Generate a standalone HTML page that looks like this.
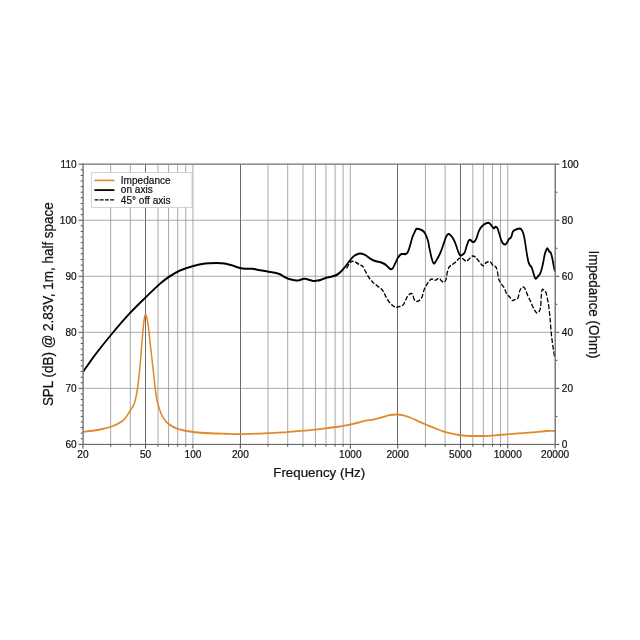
<!DOCTYPE html>
<html lang="en">
<head>
<meta charset="utf-8">
<title>Frequency response</title>
<style>
html,body{margin:0;padding:0;background:#fff;}
body{width:640px;height:640px;overflow:hidden;}
svg{display:block;will-change:transform;}
text{font-family:"Liberation Sans",sans-serif;fill:#111;stroke:#111;stroke-width:0.22px;}
</style>
</head>
<body>
<svg width="640" height="640" viewBox="0 0 640 640">
<rect width="640" height="640" fill="#fff"/>
<g><line x1="110.64" y1="164.20" x2="110.64" y2="444.40" stroke="#a4a4a4" stroke-width="0.95"/><line x1="130.30" y1="164.20" x2="130.30" y2="444.40" stroke="#a4a4a4" stroke-width="0.95"/><line x1="145.50" y1="164.20" x2="145.50" y2="444.40" stroke="#585858" stroke-width="0.9"/><line x1="158.02" y1="164.20" x2="158.02" y2="444.40" stroke="#a4a4a4" stroke-width="0.95"/><line x1="168.56" y1="164.20" x2="168.56" y2="444.40" stroke="#a4a4a4" stroke-width="0.95"/><line x1="177.68" y1="164.20" x2="177.68" y2="444.40" stroke="#a4a4a4" stroke-width="0.95"/><line x1="185.74" y1="164.20" x2="185.74" y2="444.40" stroke="#a4a4a4" stroke-width="0.95"/><line x1="192.94" y1="164.20" x2="192.94" y2="444.40" stroke="#a4a4a4" stroke-width="0.95"/><line x1="240.50" y1="164.20" x2="240.50" y2="444.40" stroke="#585858" stroke-width="0.9"/><line x1="268.04" y1="164.20" x2="268.04" y2="444.40" stroke="#a4a4a4" stroke-width="0.95"/><line x1="287.70" y1="164.20" x2="287.70" y2="444.40" stroke="#a4a4a4" stroke-width="0.95"/><line x1="302.96" y1="164.20" x2="302.96" y2="444.40" stroke="#a4a4a4" stroke-width="0.95"/><line x1="315.42" y1="164.20" x2="315.42" y2="444.40" stroke="#a4a4a4" stroke-width="0.95"/><line x1="325.96" y1="164.20" x2="325.96" y2="444.40" stroke="#a4a4a4" stroke-width="0.95"/><line x1="335.08" y1="164.20" x2="335.08" y2="444.40" stroke="#a4a4a4" stroke-width="0.95"/><line x1="343.14" y1="164.20" x2="343.14" y2="444.40" stroke="#a4a4a4" stroke-width="0.95"/><line x1="350.34" y1="164.20" x2="350.34" y2="444.40" stroke="#a4a4a4" stroke-width="0.95"/><line x1="397.50" y1="164.20" x2="397.50" y2="444.40" stroke="#585858" stroke-width="0.9"/><line x1="425.44" y1="164.20" x2="425.44" y2="444.40" stroke="#a4a4a4" stroke-width="0.95"/><line x1="445.10" y1="164.20" x2="445.10" y2="444.40" stroke="#a4a4a4" stroke-width="0.95"/><line x1="460.50" y1="164.20" x2="460.50" y2="444.40" stroke="#585858" stroke-width="0.9"/><line x1="472.82" y1="164.20" x2="472.82" y2="444.40" stroke="#a4a4a4" stroke-width="0.95"/><line x1="483.36" y1="164.20" x2="483.36" y2="444.40" stroke="#a4a4a4" stroke-width="0.95"/><line x1="492.48" y1="164.20" x2="492.48" y2="444.40" stroke="#a4a4a4" stroke-width="0.95"/><line x1="500.54" y1="164.20" x2="500.54" y2="444.40" stroke="#a4a4a4" stroke-width="0.95"/><line x1="507.74" y1="164.20" x2="507.74" y2="444.40" stroke="#a4a4a4" stroke-width="0.95"/><line x1="83.10" y1="388.36" x2="555.25" y2="388.36" stroke="#8c8c8c" stroke-width="0.75"/><line x1="83.10" y1="332.32" x2="555.25" y2="332.32" stroke="#8c8c8c" stroke-width="0.75"/><line x1="83.10" y1="276.28" x2="555.25" y2="276.28" stroke="#8c8c8c" stroke-width="0.75"/><line x1="83.10" y1="220.24" x2="555.25" y2="220.24" stroke="#8c8c8c" stroke-width="0.75"/></g>
<g stroke="#484848" stroke-width="1"><line x1="82.92" y1="444.40" x2="82.92" y2="448.60"/><line x1="110.64" y1="444.40" x2="110.64" y2="446.60"/><line x1="130.30" y1="444.40" x2="130.30" y2="446.60"/><line x1="145.56" y1="444.40" x2="145.56" y2="448.60"/><line x1="158.02" y1="444.40" x2="158.02" y2="446.60"/><line x1="168.56" y1="444.40" x2="168.56" y2="446.60"/><line x1="177.68" y1="444.40" x2="177.68" y2="446.60"/><line x1="185.74" y1="444.40" x2="185.74" y2="446.60"/><line x1="192.94" y1="444.40" x2="192.94" y2="448.60"/><line x1="240.32" y1="444.40" x2="240.32" y2="448.60"/><line x1="268.04" y1="444.40" x2="268.04" y2="446.60"/><line x1="287.70" y1="444.40" x2="287.70" y2="446.60"/><line x1="302.96" y1="444.40" x2="302.96" y2="446.60"/><line x1="315.42" y1="444.40" x2="315.42" y2="446.60"/><line x1="325.96" y1="444.40" x2="325.96" y2="446.60"/><line x1="335.08" y1="444.40" x2="335.08" y2="446.60"/><line x1="343.14" y1="444.40" x2="343.14" y2="446.60"/><line x1="350.34" y1="444.40" x2="350.34" y2="448.60"/><line x1="397.72" y1="444.40" x2="397.72" y2="448.60"/><line x1="425.44" y1="444.40" x2="425.44" y2="446.60"/><line x1="445.10" y1="444.40" x2="445.10" y2="446.60"/><line x1="460.36" y1="444.40" x2="460.36" y2="448.60"/><line x1="472.82" y1="444.40" x2="472.82" y2="446.60"/><line x1="483.36" y1="444.40" x2="483.36" y2="446.60"/><line x1="492.48" y1="444.40" x2="492.48" y2="446.60"/><line x1="500.54" y1="444.40" x2="500.54" y2="446.60"/><line x1="507.74" y1="444.40" x2="507.74" y2="448.60"/><line x1="555.12" y1="444.40" x2="555.12" y2="448.60"/><line x1="78.80" y1="444.40" x2="83.10" y2="444.40"/><line x1="80.70" y1="438.80" x2="83.10" y2="438.80"/><line x1="80.70" y1="433.19" x2="83.10" y2="433.19"/><line x1="80.70" y1="427.59" x2="83.10" y2="427.59"/><line x1="80.70" y1="421.98" x2="83.10" y2="421.98"/><line x1="80.70" y1="416.38" x2="83.10" y2="416.38"/><line x1="80.70" y1="410.78" x2="83.10" y2="410.78"/><line x1="80.70" y1="405.17" x2="83.10" y2="405.17"/><line x1="80.70" y1="399.57" x2="83.10" y2="399.57"/><line x1="80.70" y1="393.96" x2="83.10" y2="393.96"/><line x1="78.80" y1="388.36" x2="83.10" y2="388.36"/><line x1="80.70" y1="382.76" x2="83.10" y2="382.76"/><line x1="80.70" y1="377.15" x2="83.10" y2="377.15"/><line x1="80.70" y1="371.55" x2="83.10" y2="371.55"/><line x1="80.70" y1="365.94" x2="83.10" y2="365.94"/><line x1="80.70" y1="360.34" x2="83.10" y2="360.34"/><line x1="80.70" y1="354.74" x2="83.10" y2="354.74"/><line x1="80.70" y1="349.13" x2="83.10" y2="349.13"/><line x1="80.70" y1="343.53" x2="83.10" y2="343.53"/><line x1="80.70" y1="337.92" x2="83.10" y2="337.92"/><line x1="78.80" y1="332.32" x2="83.10" y2="332.32"/><line x1="80.70" y1="326.72" x2="83.10" y2="326.72"/><line x1="80.70" y1="321.11" x2="83.10" y2="321.11"/><line x1="80.70" y1="315.51" x2="83.10" y2="315.51"/><line x1="80.70" y1="309.90" x2="83.10" y2="309.90"/><line x1="80.70" y1="304.30" x2="83.10" y2="304.30"/><line x1="80.70" y1="298.70" x2="83.10" y2="298.70"/><line x1="80.70" y1="293.09" x2="83.10" y2="293.09"/><line x1="80.70" y1="287.49" x2="83.10" y2="287.49"/><line x1="80.70" y1="281.88" x2="83.10" y2="281.88"/><line x1="78.80" y1="276.28" x2="83.10" y2="276.28"/><line x1="80.70" y1="270.68" x2="83.10" y2="270.68"/><line x1="80.70" y1="265.07" x2="83.10" y2="265.07"/><line x1="80.70" y1="259.47" x2="83.10" y2="259.47"/><line x1="80.70" y1="253.86" x2="83.10" y2="253.86"/><line x1="80.70" y1="248.26" x2="83.10" y2="248.26"/><line x1="80.70" y1="242.66" x2="83.10" y2="242.66"/><line x1="80.70" y1="237.05" x2="83.10" y2="237.05"/><line x1="80.70" y1="231.45" x2="83.10" y2="231.45"/><line x1="80.70" y1="225.84" x2="83.10" y2="225.84"/><line x1="78.80" y1="220.24" x2="83.10" y2="220.24"/><line x1="80.70" y1="214.64" x2="83.10" y2="214.64"/><line x1="80.70" y1="209.03" x2="83.10" y2="209.03"/><line x1="80.70" y1="203.43" x2="83.10" y2="203.43"/><line x1="80.70" y1="197.82" x2="83.10" y2="197.82"/><line x1="80.70" y1="192.22" x2="83.10" y2="192.22"/><line x1="80.70" y1="186.62" x2="83.10" y2="186.62"/><line x1="80.70" y1="181.01" x2="83.10" y2="181.01"/><line x1="80.70" y1="175.41" x2="83.10" y2="175.41"/><line x1="80.70" y1="169.80" x2="83.10" y2="169.80"/><line x1="78.80" y1="164.20" x2="83.10" y2="164.20"/><line x1="555.25" y1="444.40" x2="559.45" y2="444.40"/><line x1="555.25" y1="416.38" x2="557.45" y2="416.38"/><line x1="555.25" y1="388.36" x2="559.45" y2="388.36"/><line x1="555.25" y1="360.34" x2="557.45" y2="360.34"/><line x1="555.25" y1="332.32" x2="559.45" y2="332.32"/><line x1="555.25" y1="304.30" x2="557.45" y2="304.30"/><line x1="555.25" y1="276.28" x2="559.45" y2="276.28"/><line x1="555.25" y1="248.26" x2="557.45" y2="248.26"/><line x1="555.25" y1="220.24" x2="559.45" y2="220.24"/><line x1="555.25" y1="192.22" x2="557.45" y2="192.22"/><line x1="555.25" y1="164.20" x2="559.45" y2="164.20"/></g>
<clipPath id="c"><rect x="82.92" y="164.20" width="472.80" height="280.20"/></clipPath>
<g clip-path="url(#c)"><g transform="scale(0.850 1)" fill="none" stroke-linejoin="round" stroke-linecap="butt">
<path d="M97.88 431.75C99.71 431.58 105.04 431.21 108.82 430.75C112.61 430.29 116.91 429.67 120.59 429.00C124.26 428.33 127.70 427.70 130.88 426.75C134.07 425.80 137.05 424.62 139.71 423.30C142.36 421.98 144.58 420.92 146.82 418.80C149.07 416.68 151.35 413.10 153.18 410.60C155.00 408.10 156.45 406.82 157.76 403.80C159.08 400.78 159.98 398.03 161.06 392.50C162.14 386.97 163.35 377.88 164.24 370.60C165.12 363.32 165.63 356.08 166.35 348.80C167.08 341.52 167.98 332.10 168.59 326.90C169.20 321.70 169.55 319.68 170.00 317.60C170.45 315.52 170.84 314.40 171.29 314.40C171.75 314.40 172.16 315.52 172.71 317.60C173.25 319.68 173.80 321.70 174.59 326.90C175.37 332.10 176.45 341.52 177.41 348.80C178.37 356.08 179.39 363.32 180.35 370.60C181.31 377.88 182.29 387.02 183.18 392.50C184.06 397.98 184.53 399.85 185.65 403.50C186.76 407.15 188.27 411.38 189.88 414.40C191.49 417.42 193.45 419.77 195.29 421.60C197.14 423.43 198.78 424.23 200.94 425.40C203.10 426.57 205.45 427.71 208.24 428.60C211.02 429.49 214.12 430.14 217.65 430.75C221.18 431.36 224.51 431.83 229.41 432.25C234.31 432.67 241.18 433.00 247.06 433.25C252.94 433.50 258.71 433.61 264.71 433.75C270.71 433.89 276.86 434.11 283.06 434.10C289.25 434.09 296.41 433.87 301.88 433.70C307.35 433.53 309.90 433.37 315.88 433.10C321.86 432.83 331.00 432.50 337.76 432.10C344.53 431.70 351.00 431.10 356.47 430.70C361.94 430.30 366.16 430.10 370.59 429.70C375.02 429.30 378.89 428.75 383.06 428.30C387.23 427.85 391.94 427.43 395.59 427.00C399.24 426.57 402.07 426.13 404.94 425.70C407.81 425.27 409.96 424.93 412.82 424.40C415.69 423.87 419.25 423.13 422.12 422.50C424.98 421.87 427.14 421.08 430.00 420.60C432.86 420.12 436.18 420.12 439.29 419.60C442.41 419.08 445.57 418.25 448.71 417.50C451.84 416.75 455.14 415.60 458.12 415.10C461.10 414.60 463.86 414.47 466.59 414.50C469.31 414.53 471.60 414.72 474.47 415.30C477.34 415.88 480.71 416.93 483.82 418.00C486.94 419.07 490.05 420.50 493.18 421.70C496.30 422.90 499.45 424.10 502.59 425.20C505.73 426.30 508.88 427.28 512.00 428.30C515.12 429.32 518.18 430.45 521.29 431.30C524.41 432.15 527.57 432.78 530.71 433.40C533.84 434.02 537.00 434.60 540.12 435.00C543.24 435.40 545.78 435.63 549.41 435.80C553.04 435.97 557.71 436.00 561.88 436.00C566.06 436.00 570.29 435.97 574.47 435.80C578.65 435.63 582.78 435.27 586.94 435.00C591.10 434.73 594.73 434.52 599.41 434.20C604.10 433.88 609.84 433.45 615.06 433.10C620.27 432.75 626.02 432.45 630.71 432.10C635.39 431.75 639.49 431.18 643.18 431.00C646.86 430.82 651.22 431.00 652.82 431.00" stroke="#e2882a" stroke-width="1.8"/>
<path d="M407.76 268.40C408.31 267.57 410.06 264.57 411.06 263.40C412.06 262.23 412.55 261.58 413.76 261.40C414.98 261.22 416.82 261.75 418.35 262.30C419.88 262.85 421.55 264.04 422.94 264.70C424.33 265.36 425.63 265.28 426.71 266.25C427.78 267.22 428.20 268.62 429.41 270.50C430.63 272.38 432.47 275.55 434.00 277.50C435.53 279.45 436.90 280.77 438.59 282.20C440.27 283.63 442.27 284.85 444.12 286.10C445.96 287.35 448.12 288.13 449.65 289.70C451.18 291.27 452.08 293.63 453.29 295.50C454.51 297.37 455.57 299.28 456.94 300.90C458.31 302.52 460.14 304.15 461.53 305.20C462.92 306.25 463.90 307.00 465.29 307.20C466.69 307.40 468.35 306.80 469.88 306.40C471.41 306.00 473.25 305.83 474.47 304.80C475.69 303.77 476.25 301.75 477.18 300.20C478.10 298.65 478.92 296.60 480.00 295.50C481.08 294.40 482.73 293.73 483.65 293.60C484.57 293.47 484.92 293.73 485.53 294.70C486.14 295.67 486.57 298.28 487.29 299.40C488.02 300.52 489.02 301.15 489.88 301.40C490.75 301.65 491.43 301.50 492.47 300.90C493.51 300.30 495.06 299.62 496.12 297.80C497.18 295.98 497.90 292.08 498.82 290.00C499.75 287.92 500.72 286.73 501.65 285.30C502.58 283.87 503.33 282.45 504.41 281.40C505.49 280.35 506.89 279.18 508.12 279.00C509.34 278.82 510.39 280.42 511.76 280.30C513.14 280.18 515.13 278.25 516.35 278.30C517.58 278.35 518.20 279.95 519.12 280.60C520.04 281.25 520.97 282.33 521.88 282.20C522.79 282.07 523.88 281.37 524.59 279.80C525.29 278.23 525.51 274.88 526.12 272.80C526.73 270.72 527.25 268.65 528.24 267.30C529.22 265.95 530.61 265.65 532.00 264.70C533.39 263.75 535.22 262.65 536.59 261.60C537.96 260.55 539.02 258.93 540.24 258.40C541.45 257.87 542.50 257.95 543.88 258.40C545.26 258.85 546.98 261.17 548.53 261.10C550.08 261.03 551.95 258.87 553.18 258.00C554.40 257.13 554.82 256.03 555.88 255.90C556.94 255.77 558.30 256.33 559.53 257.20C560.75 258.07 561.80 259.67 563.24 261.10C564.67 262.53 566.70 265.53 568.12 265.80C569.54 266.07 570.33 263.35 571.76 262.70C573.20 262.05 575.27 261.38 576.71 261.90C578.14 262.42 579.29 265.02 580.35 265.80C581.41 266.58 582.29 265.82 583.06 266.60C583.82 267.38 584.32 268.42 584.94 270.50C585.56 272.58 586.00 276.89 586.76 279.10C587.53 281.31 588.46 282.32 589.53 283.75C590.60 285.18 592.10 286.01 593.18 287.70C594.25 289.39 594.92 292.35 596.00 293.90C597.08 295.45 598.49 295.90 599.65 297.00C600.80 298.10 601.86 300.10 602.94 300.50C604.02 300.90 605.04 299.85 606.12 299.40C607.20 298.95 608.51 299.23 609.41 297.80C610.31 296.37 610.76 292.48 611.53 290.80C612.29 289.12 613.23 288.30 614.00 287.70C614.77 287.10 615.45 286.82 616.18 287.20C616.90 287.58 617.58 288.62 618.35 290.00C619.13 291.38 619.96 293.80 620.82 295.50C621.69 297.20 622.63 298.52 623.53 300.20C624.43 301.88 625.31 303.92 626.24 305.60C627.16 307.28 628.22 309.12 629.06 310.30C629.90 311.48 630.43 312.48 631.29 312.70C632.16 312.92 633.45 312.52 634.24 311.60C635.02 310.68 635.58 309.76 636.00 307.20C636.42 304.64 636.45 299.17 636.76 296.25C637.08 293.33 637.28 290.69 637.88 289.70C638.48 288.71 639.61 289.82 640.35 290.30C641.10 290.78 641.78 291.35 642.35 292.60C642.92 293.85 643.25 295.68 643.76 297.80C644.27 299.92 644.86 302.02 645.41 305.30C645.96 308.58 646.54 312.87 647.06 317.50C647.58 322.13 647.98 328.42 648.53 333.10C649.08 337.78 649.68 341.43 650.35 345.60C651.03 349.77 652.22 356.02 652.59 358.10" stroke="#000" stroke-width="1.5" stroke-dasharray="4.9 1.9"/>
<path d="M97.88 371.75C100.20 368.96 106.26 361.19 111.76 355.00C117.26 348.81 124.02 341.58 130.88 334.60C137.75 327.62 146.23 319.28 152.94 313.10C159.66 306.92 165.29 302.39 171.18 297.50C177.06 292.61 183.68 287.17 188.24 283.75C192.79 280.33 194.61 279.21 198.53 277.00C202.45 274.79 207.11 272.29 211.76 270.50C216.42 268.71 221.57 267.40 226.47 266.25C231.37 265.10 237.65 264.11 241.18 263.60C244.71 263.09 245.44 263.29 247.65 263.20C249.85 263.11 252.25 263.05 254.41 263.05C256.57 263.05 258.48 263.04 260.59 263.20C262.70 263.36 264.90 263.60 267.06 264.00C269.22 264.40 270.98 264.95 273.53 265.60C276.08 266.25 279.90 267.38 282.35 267.90C284.80 268.42 285.78 268.60 288.24 268.75C290.69 268.90 294.12 268.55 297.06 268.80C300.00 269.05 302.94 269.80 305.88 270.25C308.82 270.70 311.76 271.08 314.71 271.50C317.65 271.92 321.08 272.29 323.53 272.75C325.98 273.21 327.45 273.50 329.41 274.25C331.37 275.00 333.33 276.42 335.29 277.25C337.25 278.08 338.97 278.71 341.18 279.25C343.38 279.79 346.67 280.34 348.53 280.50C350.39 280.66 351.07 280.46 352.35 280.20C353.64 279.94 355.06 279.19 356.24 278.95C357.41 278.71 358.27 278.62 359.41 278.75C360.55 278.88 361.59 279.39 363.06 279.75C364.53 280.11 366.59 280.76 368.24 280.90C369.88 281.04 371.47 280.77 372.94 280.60C374.41 280.43 375.25 280.38 377.06 279.90C378.87 279.42 381.72 278.27 383.82 277.75C385.93 277.23 387.60 277.25 389.71 276.75C391.81 276.25 394.51 275.67 396.47 274.75C398.43 273.83 399.96 272.49 401.47 271.25C402.98 270.01 403.93 268.99 405.53 267.30C407.13 265.61 409.24 262.98 411.06 261.10C412.88 259.22 414.64 257.23 416.47 256.00C418.30 254.78 420.51 254.12 422.06 253.75C423.61 253.38 424.38 253.49 425.76 253.75C427.15 254.01 428.67 254.47 430.35 255.30C432.04 256.13 434.04 257.78 435.88 258.75C437.73 259.72 439.43 260.53 441.41 261.10C443.39 261.68 445.78 261.63 447.76 262.20C449.75 262.77 451.61 263.52 453.29 264.50C454.98 265.48 456.72 267.32 457.88 268.10C459.05 268.88 459.53 269.25 460.29 269.20C461.06 269.15 461.64 268.88 462.47 267.80C463.30 266.72 464.37 264.33 465.29 262.70C466.22 261.07 467.08 259.32 468.00 258.00C468.92 256.68 469.90 255.47 470.82 254.80C471.75 254.13 472.47 254.13 473.53 254.00C474.59 253.87 476.10 254.38 477.18 254.00C478.25 253.62 479.08 253.25 480.00 251.70C480.92 250.15 481.82 247.17 482.71 244.70C483.59 242.23 484.41 239.05 485.29 236.90C486.18 234.75 487.20 233.16 488.00 231.80C488.80 230.44 489.06 229.15 490.12 228.75C491.18 228.35 493.04 229.01 494.35 229.40C495.67 229.79 496.94 230.25 498.00 231.10C499.06 231.95 499.78 232.88 500.71 234.50C501.63 236.12 502.76 238.45 503.53 240.80C504.29 243.15 504.59 245.73 505.29 248.60C506.00 251.47 507.00 255.58 507.76 258.00C508.53 260.42 509.22 262.32 509.88 263.10C510.55 263.88 511.00 263.43 511.76 262.70C512.53 261.97 513.39 260.45 514.47 258.75C515.55 257.05 517.00 254.97 518.24 252.50C519.47 250.03 520.75 246.55 521.88 243.90C523.01 241.25 524.08 238.23 525.00 236.60C525.92 234.97 526.56 234.32 527.41 234.10C528.26 233.88 529.20 234.58 530.12 235.30C531.04 236.02 532.02 237.10 532.94 238.40C533.86 239.70 534.73 241.13 535.65 243.10C536.57 245.07 537.55 248.17 538.47 250.20C539.39 252.23 540.27 254.53 541.18 255.30C542.08 256.07 542.96 255.27 543.88 254.80C544.80 254.33 545.86 253.93 546.71 252.50C547.55 251.07 548.18 248.20 548.94 246.25C549.71 244.30 550.59 241.89 551.29 240.80C552.00 239.71 552.41 239.52 553.18 239.70C553.94 239.88 555.06 241.58 555.88 241.90C556.71 242.22 557.35 242.18 558.12 241.60C558.88 241.02 559.62 240.10 560.47 238.40C561.32 236.70 562.31 233.27 563.24 231.40C564.16 229.53 564.93 228.37 566.00 227.20C567.07 226.03 568.43 225.08 569.65 224.40C570.86 223.72 572.27 223.32 573.29 223.10C574.31 222.88 574.90 222.63 575.76 223.10C576.63 223.57 577.62 225.03 578.47 225.90C579.32 226.77 580.12 228.17 580.88 228.30C581.65 228.43 582.38 226.78 583.06 226.70C583.74 226.62 584.25 226.75 584.94 227.80C585.63 228.85 586.41 230.97 587.18 233.00C587.94 235.03 588.75 238.27 589.53 240.00C590.31 241.73 591.06 242.67 591.88 243.40C592.71 244.13 593.65 244.58 594.47 244.40C595.29 244.22 596.12 243.17 596.82 242.30C597.53 241.43 597.93 240.10 598.71 239.20C599.48 238.30 600.71 238.12 601.47 236.90C602.24 235.68 602.52 233.08 603.29 231.90C604.07 230.72 605.04 230.33 606.12 229.80C607.20 229.28 608.71 228.93 609.76 228.75C610.82 228.57 611.65 228.31 612.47 228.75C613.29 229.19 614.00 230.04 614.71 231.40C615.41 232.76 616.10 234.55 616.71 236.90C617.31 239.25 617.82 242.63 618.35 245.50C618.88 248.37 619.33 251.37 619.88 254.10C620.43 256.83 621.04 260.03 621.65 261.90C622.25 263.77 622.90 264.40 623.53 265.30C624.16 266.20 624.80 266.18 625.41 267.30C626.02 268.42 626.57 270.35 627.18 272.00C627.78 273.65 628.53 276.07 629.06 277.20C629.59 278.32 629.75 278.83 630.35 278.75C630.96 278.67 631.84 277.56 632.71 276.70C633.57 275.84 634.76 274.90 635.53 273.60C636.29 272.30 636.69 270.85 637.29 268.90C637.90 266.95 638.57 264.37 639.18 261.90C639.78 259.43 640.33 256.13 640.94 254.10C641.55 252.07 642.29 250.67 642.82 249.70C643.35 248.73 643.59 248.04 644.12 248.30C644.65 248.56 645.39 250.55 646.00 251.25C646.61 251.95 647.22 251.64 647.76 252.50C648.31 253.36 648.75 254.45 649.29 256.40C649.84 258.35 650.47 261.68 651.06 264.20C651.65 266.72 652.53 270.28 652.82 271.50" stroke="#000" stroke-width="2.05"/>
</g></g>
<g stroke-linecap="square">
<line x1="83.10" y1="164.20" x2="555.25" y2="164.20" stroke="#727272" stroke-width="1.2"/>
<line x1="83.10" y1="444.40" x2="555.25" y2="444.40" stroke="#585858" stroke-width="1.0"/>
<line x1="83.10" y1="164.20" x2="83.10" y2="444.40" stroke="#7c7c7c" stroke-width="1.5"/>
<line x1="555.25" y1="164.20" x2="555.25" y2="444.40" stroke="#7c7c7c" stroke-width="1.5"/>
</g>
<rect x="91.3" y="172.6" width="100.7" height="34.8" fill="#fff" stroke="#c8c8c8" stroke-width="0.8"/>
<line x1="94.4" y1="180.4" x2="114.4" y2="180.4" stroke="#e2882a" stroke-width="1.6"/>
<line x1="94.4" y1="190.1" x2="114.4" y2="190.1" stroke="#000" stroke-width="1.8"/>
<line x1="94.6" y1="199.9" x2="114.6" y2="199.9" stroke="#000" stroke-width="1.25" stroke-dasharray="3.9 1.3"/>
<g class="lg">
<text transform="translate(120.80 183.80) scale(0.885 1)" font-size="11.40" text-anchor="start">Impedance</text>
<text transform="translate(120.80 193.35) scale(0.885 1)" font-size="11.40" text-anchor="start">on axis</text>
<text transform="translate(120.80 203.60) scale(0.885 1)" font-size="11.40" text-anchor="start">45° off axis</text>
</g>
<g class="tk" text-anchor="middle">
<text transform="translate(82.92 457.90) scale(0.920 1)" font-size="11.00" text-anchor="middle">20</text>
<text transform="translate(145.56 457.90) scale(0.920 1)" font-size="11.00" text-anchor="middle">50</text>
<text transform="translate(192.94 457.90) scale(0.920 1)" font-size="11.00" text-anchor="middle">100</text>
<text transform="translate(240.32 457.90) scale(0.920 1)" font-size="11.00" text-anchor="middle">200</text>
<text transform="translate(350.34 457.90) scale(0.920 1)" font-size="11.00" text-anchor="middle">1000</text>
<text transform="translate(397.72 457.90) scale(0.920 1)" font-size="11.00" text-anchor="middle">2000</text>
<text transform="translate(460.36 457.90) scale(0.920 1)" font-size="11.00" text-anchor="middle">5000</text>
<text transform="translate(507.74 457.90) scale(0.920 1)" font-size="11.00" text-anchor="middle">10000</text>
<text transform="translate(555.12 457.90) scale(0.920 1)" font-size="11.00" text-anchor="middle">20000</text>
</g>
<g class="tk" text-anchor="end">
<text transform="translate(76.70 448.40) scale(0.920 1)" font-size="11.00" text-anchor="end">60</text>
<text transform="translate(76.70 392.36) scale(0.920 1)" font-size="11.00" text-anchor="end">70</text>
<text transform="translate(76.70 336.32) scale(0.920 1)" font-size="11.00" text-anchor="end">80</text>
<text transform="translate(76.70 280.28) scale(0.920 1)" font-size="11.00" text-anchor="end">90</text>
<text transform="translate(76.70 224.24) scale(0.920 1)" font-size="11.00" text-anchor="end">100</text>
<text transform="translate(76.70 168.20) scale(0.920 1)" font-size="11.00" text-anchor="end">110</text>
</g>
<g class="tk" text-anchor="start">
<text transform="translate(561.80 448.40) scale(0.920 1)" font-size="11.00" text-anchor="start">0</text>
<text transform="translate(561.80 392.36) scale(0.920 1)" font-size="11.00" text-anchor="start">20</text>
<text transform="translate(561.80 336.32) scale(0.920 1)" font-size="11.00" text-anchor="start">40</text>
<text transform="translate(561.80 280.28) scale(0.920 1)" font-size="11.00" text-anchor="start">60</text>
<text transform="translate(561.80 224.24) scale(0.920 1)" font-size="11.00" text-anchor="start">80</text>
<text transform="translate(561.80 168.20) scale(0.920 1)" font-size="11.00" text-anchor="start">100</text>
</g>
<text transform="translate(319.20 477.00) scale(1.050 1)" font-size="12.70" text-anchor="middle">Frequency (Hz)</text>
<text transform="translate(53.25 304.20) rotate(-90) scale(0.968 1)" font-size="13.90" text-anchor="middle">SPL (dB) @ 2.83V, 1m, half space</text>
<text transform="translate(588.90 304.50) rotate(90) scale(0.952 1)" font-size="14.10" text-anchor="middle">Impedance (Ohm)</text>
</svg>
</body>
</html>
